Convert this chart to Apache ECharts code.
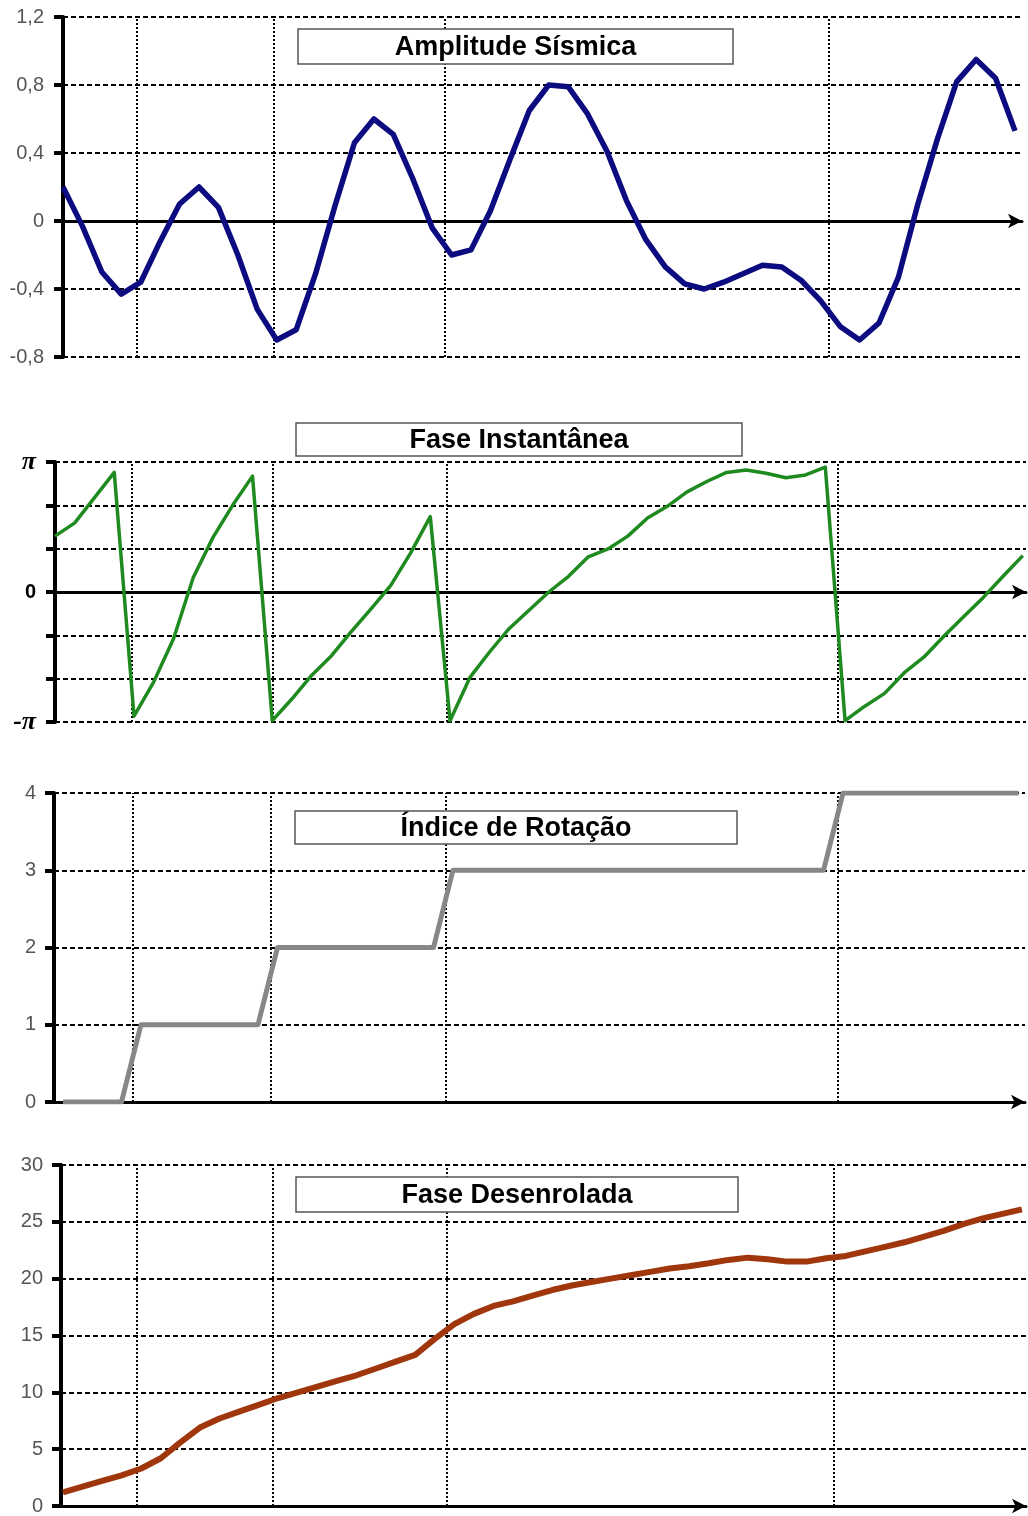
<!DOCTYPE html>
<html>
<head>
<meta charset="utf-8">
<title>Traço sísmico</title>
<script src="https://cdn.jsdelivr.net/npm/echarts@6/dist/echarts.min.js"></script>
<style>
  html, body { margin: 0; padding: 0; background: #fff; }
  #chart { width: 1028px; height: 1516px; }
</style>
</head>
<body>
<div id="chart"></div>
<script>
// amostras 0..49
const amplitude = [
  0.2, -0.03, -0.3, -0.43, -0.36, -0.12, 0.1, 0.2, 0.08, -0.2,
  -0.52, -0.7, -0.64, -0.31, 0.09, 0.46, 0.6, 0.51, 0.25, -0.04,
  -0.2, -0.17, 0.06, 0.36, 0.65, 0.8, 0.79, 0.63, 0.41, 0.12,
  -0.11, -0.27, -0.37, -0.4, -0.36, -0.31, -0.26, -0.27, -0.35, -0.47,
  -0.62, -0.7, -0.6, -0.33, 0.1, 0.48, 0.82, 0.95, 0.84, 0.53
]
// fase instantânea em radianos
const faseInst = [
  1.35, 1.67, 2.28, 2.89, -3.0, -2.17, -1.13, 0.35, 1.32, 2.1,
  2.8, -3.11, -2.58, -2.01, -1.54, -0.96, -0.41, 0.16, 0.94, 1.82,
  -3.11, -2.07, -1.45, -0.88, -0.44, 0, 0.38, 0.85, 1.04, 1.35,
  1.79, 2.07, 2.42, 2.67, 2.89, 2.95, 2.87, 2.76, 2.83, 3.02,
  -3.11, -2.76, -2.45, -1.95, -1.57, -1.07, -0.6, -0.13, 0.38, 0.88
]
const indiceRot = [
  0, 0, 0, 0, 1, 1, 1, 1, 1, 1,
  1, 2, 2, 2, 2, 2, 2, 2, 2, 2,
  3, 3, 3, 3, 3, 3, 3, 3, 3, 3,
  3, 3, 3, 3, 3, 3, 3, 3, 3, 3,
  4, 4, 4, 4, 4, 4, 4, 4, 4, 4
]
const faseDesen = [
  1.2, 1.7, 2.2, 2.7, 3.3, 4.2, 5.6, 6.9, 7.7, 8.3,
  8.9, 9.5, 10.0, 10.5, 11.0, 11.5, 12.1, 12.7, 13.3, 14.7,
  16.0, 16.9, 17.6, 18.0, 18.5, 19.0, 19.4, 19.7, 20.0, 20.3,
  20.6, 20.9, 21.1, 21.35, 21.65, 21.85, 21.7, 21.5, 21.5, 21.8,
  22.0, 22.4, 22.8, 23.2, 23.7, 24.2, 24.8, 25.3, 25.7, 26.1
]
// linhas verticais pontilhadas (posição em amostras)
const marcas1 = [3.78, 10.86, 19.66, 39.4]
const marcas2 = [3.9, 11.0, 19.84, 39.65]
const marcas3 = [3.59, 10.67, 19.64, 39.74]
const marcas4 = [3.78, 10.73, 19.62, 39.4]
const titulos = ['Amplitude Sísmica', 'Fase Instantânea', 'Índice de Rotação', 'Fase Desenrolada']

const fonte = 'Arial, "Liberation Sans", sans-serif'
const toPairs = arr => arr.map((v, i) => [i, v])

function xAxisCfg(idx, min, max) {
  return {
    type: 'value',
    gridIndex: idx,
    min: min,
    max: max,
    axisLine: {
      show: true,
      onZero: true,
      symbol: ['none', 'arrow'],
      symbolSize: [11, 14],
      lineStyle: { color: '#000', width: 3 }
    },
    axisTick: { show: false },
    axisLabel: { show: false },
    splitLine: { show: false }
  }
}

function yAxisCfg(idx, extra) {
  return Object.assign({
    type: 'value',
    gridIndex: idx,
    axisLine: { show: true, onZero: false, lineStyle: { color: '#000', width: 4 } },
    axisTick: { show: true, length: 9, lineStyle: { color: '#000', width: 4 } },
    axisLabel: { color: '#555', fontSize: 20, fontFamily: fonte, margin: 18 },
    splitLine: { show: true, lineStyle: { color: '#000', width: 2, type: [5, 3] } }
  }, extra)
}

function serieCfg(idx, dados, cor, largura, marcas) {
  return {
    type: 'line',
    xAxisIndex: idx,
    yAxisIndex: idx,
    data: toPairs(dados),
    symbol: 'none',
    z: 10,
    lineStyle: { color: cor, width: largura, join: 'round' },
    markLine: {
      silent: true,
      z: 3,
      symbol: ['none', 'none'],
      label: { show: false },
      lineStyle: { color: '#000', width: 2, type: [2, 2] },
      data: marcas.map(m => ({ xAxis: m }))
    }
  }
}

function caixaTitulo(texto, x, y, w, h) {
  return {
    type: 'group',
    z: 100,
    zlevel: 1,
    children: [
      {
        type: 'rect',
        z: 100,
        shape: { x: x, y: y, width: w, height: h },
        style: { fill: '#fff', stroke: '#555', lineWidth: 1.5 }
      },
      {
        type: 'text',
        z: 101,
        x: x + w / 2,
        y: y + h / 2 + 1,
        style: {
          text: texto,
          align: 'center',
          verticalAlign: 'middle',
          font: 'bold 27px ' + fonte,
          fill: '#000'
        }
      }
    ]
  }
}

const option = {
  animation: false,
  backgroundColor: '#fff',
  grid: [
    { left: 63, top: 17, width: 959, height: 340 },
    { left: 55, top: 462, width: 971, height: 260 },
    { left: 54, top: 793, width: 971, height: 309 },
    { left: 61, top: 1165, width: 965, height: 344 }
  ],
  xAxis: [
    xAxisCfg(0, 0, 49.36),
    xAxisCfg(1, 0, 49.16),
    xAxisCfg(2, -0.46, 49.33),
    xAxisCfg(3, -0.1, 49.21)
  ],
  yAxis: [
    yAxisCfg(0, {
      min: -0.8, max: 1.2, interval: 0.4,
      axisLabel: {
        color: '#555', fontSize: 20, fontFamily: fonte, margin: 19,
        formatter: v => String(Math.round(v * 10) / 10).replace('.', ',')
      }
    }),
    yAxisCfg(1, {
      min: -Math.PI, max: Math.PI, interval: Math.PI / 3,
      axisLabel: {
        color: '#000', fontSize: 20, fontFamily: fonte, fontWeight: 'bold', margin: 19,
        formatter: v => {
          if (Math.abs(v - Math.PI) < 0.01) return '{p|π}'
          if (Math.abs(v + Math.PI) < 0.01) return '{p|-π}'
          if (Math.abs(v) < 0.01) return '0'
          return ''
        },
        rich: {
          p: { fontFamily: '"Liberation Serif", "Times New Roman", serif', fontStyle: 'italic', fontWeight: 'bold', fontSize: 26, color: '#000' }
        }
      }
    }),
    yAxisCfg(2, { min: 0, max: 4, interval: 1 }),
    yAxisCfg(3, { min: 0, max: 30, interval: 5 })
  ],
  series: [
    serieCfg(0, amplitude, '#0c0c80', 5.5, marcas1),
    serieCfg(1, faseInst, '#1f8a1f', 3.5, marcas2),
    serieCfg(2, indiceRot, '#878787', 5, marcas3),
    serieCfg(3, faseDesen, '#a0360c', 6, marcas4)
  ],
  graphic: [
    caixaTitulo(titulos[0], 298, 29, 435, 35),
    caixaTitulo(titulos[1], 296, 423, 446, 33),
    caixaTitulo(titulos[2], 295, 811, 442, 33),
    caixaTitulo(titulos[3], 296, 1177, 442, 35)
  ]
}

const chart = echarts.init(document.getElementById('chart'))
chart.setOption(option)
</script>
</body>
</html>
